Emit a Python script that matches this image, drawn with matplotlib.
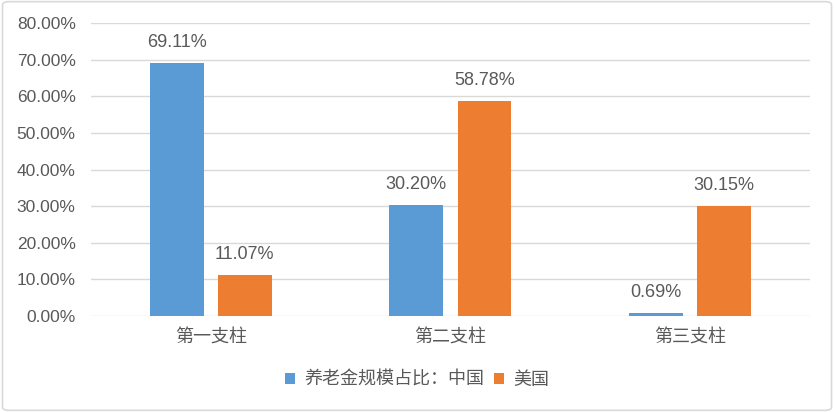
import matplotlib.pyplot as plt
from matplotlib.patches import FancyBboxPatch
from matplotlib.ticker import FuncFormatter
import numpy as np

plt.rcParams['font.family'] = ['Liberation Sans', 'Noto Sans CJK SC', 'DejaVu Sans']

categories = ['第一支柱', '第二支柱', '第三支柱']
china = [69.11, 30.20, 0.69]
usa = [11.07, 58.78, 30.15]
series_names = ['养老金规模占比：中国', '美国']

blue = '#5B9BD5'
orange = '#ED7D31'
text_c = '#595959'
grid_c = '#D9D9D9'

fig = plt.figure(figsize=(8.34, 4.12), dpi=100)
ax = fig.add_axes([0.109, 0.233, 0.862, 0.711])

x = np.arange(len(categories))
w = 0.224
off = 0.142
b1 = ax.bar(x - off, china, w, color=blue, label=series_names[0], zorder=3)
b2 = ax.bar(x + off, usa, w, color=orange, label=series_names[1], zorder=3)

# 数据标签
for bars, vals in ((b1, china), (b2, usa)):
    for b, v in zip(bars, vals):
        ax.text(b.get_x() + b.get_width() / 2, v + 5.6, f'{v:.2f}%',
                ha='center', va='center', fontsize=13, color=text_c)

ax.set_xlim(-0.5, 2.5)
ax.set_ylim(0, 80)
ax.set_yticks(np.arange(0, 81, 10))
ax.yaxis.set_major_formatter(FuncFormatter(lambda v, p: f'{v:.2f}%'))
ax.set_xticks(x)
ax.set_xticklabels(categories, fontfamily=['Noto Sans CJK SC'], fontweight='light')
ax.tick_params(axis='y', length=0, labelsize=12.5, labelcolor=text_c, pad=11)
ax.tick_params(axis='x', length=0, labelsize=13, labelcolor=text_c, pad=9)
ax.grid(axis='y', color=grid_c, linewidth=1, zorder=0)
for s in ax.spines.values():
    s.set_visible(False)

leg = fig.legend(loc='center', bbox_to_anchor=(0.5, 1 - 380 / 412), ncol=2, frameon=False,
                 handlelength=0.6, handleheight=0.6, handletextpad=0.5, columnspacing=0.5,
                 prop={'family': ['Noto Sans CJK SC'], 'size': 13, 'weight': 'light'})
for t in leg.get_texts():
    t.set_color(text_c)

frame = FancyBboxPatch((0.003, 0.004), 0.994, 0.992, boxstyle='round,pad=0,rounding_size=0.008',
                       transform=fig.transFigure, fill=False, edgecolor=grid_c, linewidth=1.2)
fig.patches.append(frame)

fig.savefig('out.png', dpi=100)
